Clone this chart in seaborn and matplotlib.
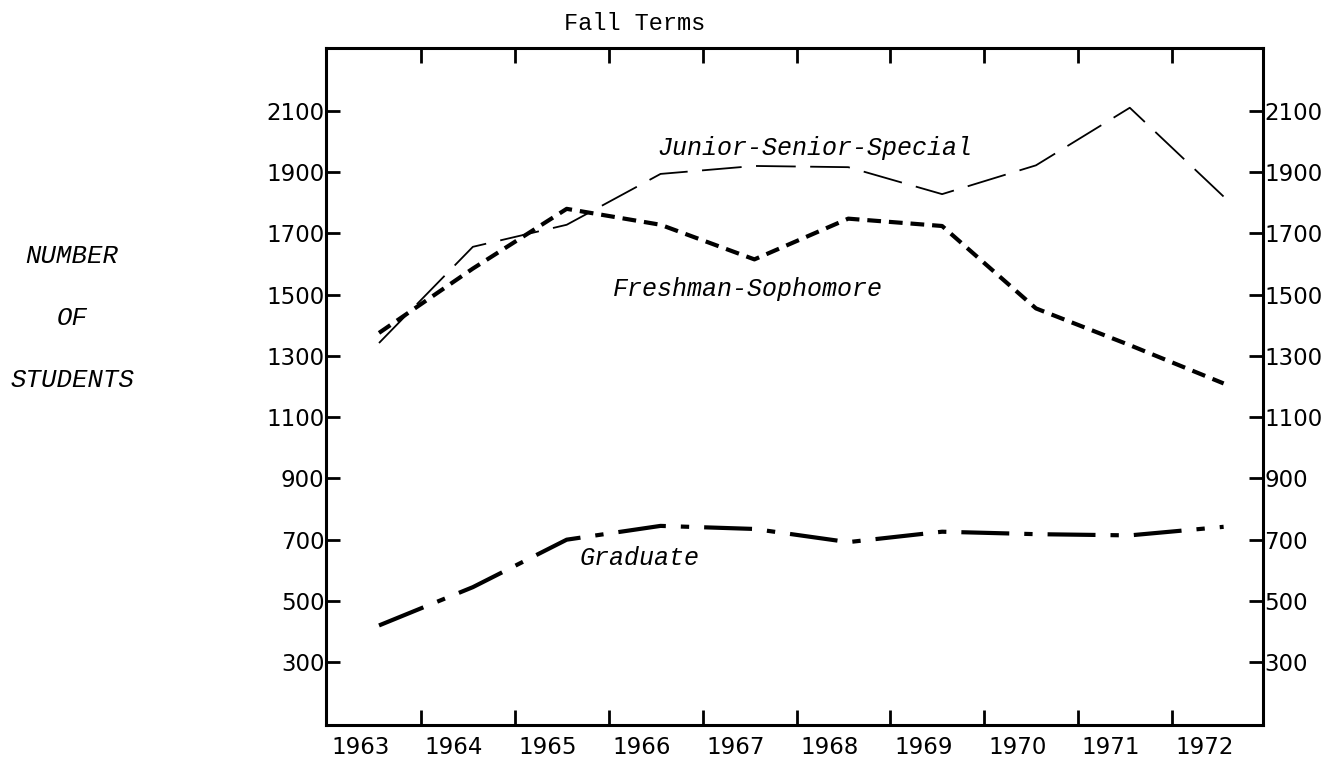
import numpy as np
import pandas as pd
import seaborn as sns
import matplotlib.pyplot as plt
from matplotlib.ticker import FixedLocator

# data (number of students, fall terms)
years = [1963, 1964, 1965, 1966, 1967, 1968, 1969, 1970, 1971, 1972]
junior_senior = [1342, 1656, 1728, 1894, 1920, 1916, 1828, 1922, 2110, 1820]
fresh_soph = [1375, 1585, 1780, 1728, 1615, 1748, 1724, 1455, 1335, 1210]
graduate = [420, 545, 700, 745, 735, 692, 726, 718, 714, 742]
y_ticks = [300, 500, 700, 900, 1100, 1300, 1500, 1700, 1900, 2100]

df = pd.DataFrame({
    "year": years * 3,
    "students": junior_senior + fresh_soph + graduate,
    "group": ["Junior-Senior-Special"] * 10 + ["Freshman-Sophomore"] * 10 + ["Graduate"] * 10,
})

sns.set_style("white")
plt.rcParams["font.family"] = ["DejaVu Sans"]
plt.rcParams["text.color"] = "black"
plt.rcParams["xtick.color"] = "black"
plt.rcParams["ytick.color"] = "black"

fig = plt.figure(figsize=(13.36, 7.61), dpi=100)
ax = fig.add_axes([0.244, 0.0473, 0.7014, 0.8896])

# line styles: thin long dash, heavy short dash, heavy dash-dot
styles = {
    "Junior-Senior-Special": dict(lw=1.3, linestyle=(0, (22, 8))),
    "Freshman-Sophomore": dict(lw=3.0, linestyle=(0, (3.3, 1.9))),
    "Graduate": dict(lw=3.0, linestyle=(0, (11.5, 3.6, 2.0, 3.6))),
}
for name, kw in styles.items():
    sub = df[df["group"] == name]
    sns.lineplot(data=sub, x="year", y="students", color="black", ax=ax, **kw)

ax.set_xlim(1962.435, 1972.42)
ax.set_ylim(95, 2305)
ax.set_xlabel("")
ax.set_ylabel("")

# year labels sit between the tick marks
ax.xaxis.set_major_locator(FixedLocator([y - 0.2 for y in years]))
ax.set_xticklabels([str(y) for y in years])
ax.xaxis.set_minor_locator(FixedLocator([y + 0.45 for y in years[:-1]]))
ax.tick_params(axis="x", which="major", length=0, pad=8, labelsize=16.5,
               labelcolor="black")
ax.tick_params(axis="x", which="minor", direction="in", length=11, width=2,
               top=True, bottom=True, color="black")

ax.set_yticks(y_ticks)
ax.set_yticklabels([str(v) for v in y_ticks])
ax.tick_params(axis="y", direction="in", length=10, width=2, pad=1,
               left=True, right=True, labelleft=True, labelright=True,
               labelsize=16.5, color="black", labelcolor="black")

for s in ax.spines.values():
    s.set_visible(True)
    s.set_color("black")
    s.set_linewidth(2.2)

lab_font = dict(family=["Liberation Mono", "DejaVu Sans Mono"], style="italic",
                fontsize=18, color="black")
ax.text(1965.97, 1955, "Junior-Senior-Special", ha="left", va="baseline", **lab_font)
ax.text(1965.49, 1497, "Freshman-Sophomore", ha="left", va="baseline", **lab_font)
ax.text(1965.14, 617, "Graduate", ha="left", va="baseline", **lab_font)

side_font = dict(family=["Liberation Mono", "DejaVu Sans Mono"], style="italic",
                 fontsize=18.5, color="black")
fig.text(0.054, 0.6544, "NUMBER", ha="center", va="baseline", **side_font)
fig.text(0.054, 0.573, "OF", ha="center", va="baseline", **side_font)
fig.text(0.054, 0.4915, "STUDENTS", ha="center", va="baseline", **side_font)

fig.text(0.475, 0.96, "Fall Terms", ha="center", va="baseline",
         family=["Liberation Mono", "DejaVu Sans Mono"], fontsize=17,
         color="black")

fig.savefig("out.png", dpi=100)
plt.close(fig)
